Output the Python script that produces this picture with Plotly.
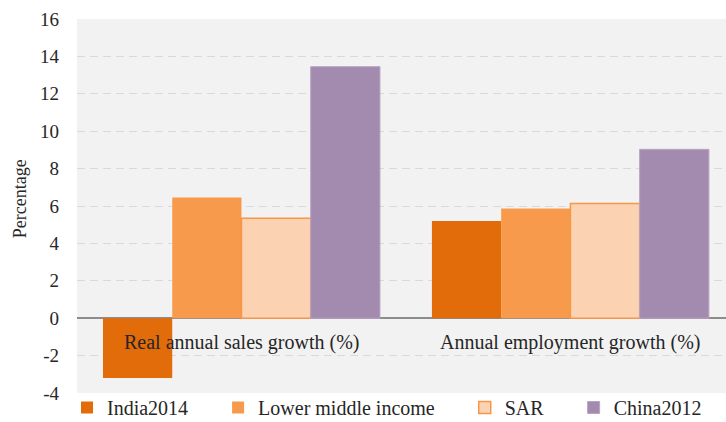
import plotly.graph_objects as go

categories = ["Real annual sales growth (%)", "Annual employment growth (%)"]
series_names = ["India2014", "Lower middle income", "SAR", "China2012"]
india2014 = [-3.2, 5.2]
lower_middle_income = [6.45, 5.87]
sar = [5.35, 6.14]
china2012 = [13.45, 9.03]
y_ticks = [-4, -2, 0, 2, 4, 6, 8, 10, 12, 14, 16]
y_tick_labels = ["-4", "-2", "0", "2", "4", "6", "8", "10", "12", "14", "16"]

values = [india2014, lower_middle_income, sar, china2012]
fills = ["#E36C0A", "#F79A4C", "#FBD3B3", "#A38AAF"]
borders = ["#E36C0A", "#F79A4C", "#F79646", "#B8A3C2"]
bwidths = [0, 0, 1.5, 1]

FONT = "Liberation Serif"
PAD = "\u00a0" * 5
fig = go.Figure()
xs = list(range(len(categories)))
for name, vals, fc, bc, bw in zip(series_names, values, fills, borders, bwidths):
    fig.add_trace(go.Bar(x=xs, y=vals, name=name + PAD,
                         marker=dict(color=fc, line=dict(color=bc, width=bw))))

for i, c in enumerate(categories):
    fig.add_annotation(x=i, y=-1.3, xref="x", yref="y", text=c, showarrow=False,
                       font=dict(family=FONT, size=20, color="#262626"))

fig.add_annotation(x=(20 - 77) / 649, y=0.518, xref="paper", yref="paper", text="Percentage",
                   textangle=-90, showarrow=False, xanchor="center", yanchor="middle",
                   font=dict(family=FONT, size=18, color="#262626"))

fig.update_layout(
    template="none",
    width=726, height=422,
    margin=dict(l=77, r=0, t=19, b=29, autoexpand=False),
    barmode="group", bargap=0.158, bargroupgap=0,
    plot_bgcolor="#F2F2F2", paper_bgcolor="white",
    font=dict(family=FONT, size=18, color="#262626"),
    showlegend=True,
    legend=dict(orientation="h", x=(67 - 77) / 649, xanchor="left", y=-34 / 374, yanchor="bottom",
                font=dict(family=FONT, size=20, color="#262626"), itemwidth=30,
                traceorder="normal", bgcolor="rgba(0,0,0,0)"),
    xaxis=dict(range=[-0.5, 1.473], showticklabels=False, showgrid=False,
               zeroline=False, showline=False, ticks="", automargin=False),
    yaxis=dict(range=[-4, 16], tickvals=y_ticks, ticktext=y_tick_labels,
               showgrid=True, gridcolor="#D9D9D9",
               griddash="8px,5px", gridwidth=1, zeroline=True, zerolinecolor="#8C8C8C",
               zerolinewidth=1.5, ticklabelstandoff=17, showline=False, ticks="",
               automargin=False,
               tickfont=dict(family=FONT, size=19, color="#262626")),
)
fig.write_html("out.html", config={"displayModeBar": False},
               post_script="document.body.style.margin='0';document.body.style.overflow='hidden';")
